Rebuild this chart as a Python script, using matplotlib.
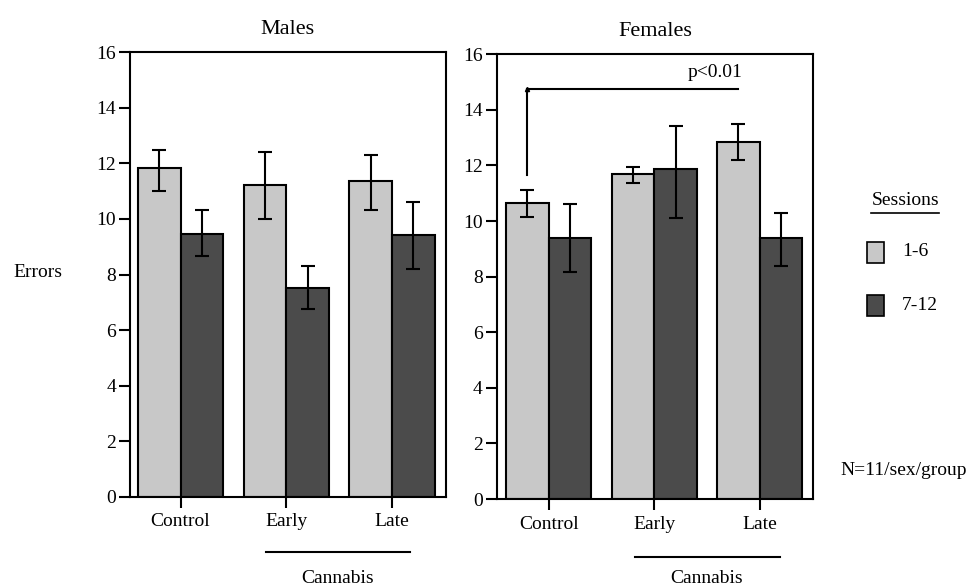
import numpy as np
import matplotlib
matplotlib.use('Agg')
import matplotlib.pyplot as plt

plt.rcParams['font.family'] = ['Liberation Serif', 'DejaVu Serif']

groups = ['Control', 'Early', 'Late']
sessions = ['1-6', '7-12']

# means
males_1_6 = [11.85, 11.24, 11.35]
males_7_12 = [9.46, 7.53, 9.42]
females_1_6 = [10.64, 11.69, 12.85]
females_7_12 = [9.38, 11.87, 9.38]

# error bars (lower, upper)
males_1_6_err = [[0.85, 1.24, 1.01], [0.65, 1.17, 0.96]]
males_7_12_err = [[0.79, 0.78, 1.23], [0.86, 0.76, 1.20]]
females_1_6_err = [[0.51, 0.33, 0.66], [0.47, 0.24, 0.66]]
females_7_12_err = [[1.23, 1.75, 0.99], [1.23, 1.55, 0.92]]

light = '#c8c8c8'
dark = '#4b4b4b'
w = 0.404

fig = plt.figure(figsize=(9.66, 5.87), dpi=100)
ax1 = fig.add_axes([0.1346, 0.1538, 0.3268, 0.7571])
ax2 = fig.add_axes([0.5142, 0.1499, 0.3277, 0.7576])

panels = [
    (ax1, 'Males', males_1_6, males_7_12, males_1_6_err, males_7_12_err, (-0.478, 2.509)),
    (ax2, 'Females', females_1_6, females_7_12, females_1_6_err, females_7_12_err, (-0.493, 2.508)),
]

x = np.arange(len(groups))
for ax, title, a, b, ea, eb, xl in panels:
    ax.bar(x - w/2, a, w, color=light, edgecolor='black', linewidth=1.5,
           yerr=ea, error_kw=dict(ecolor='black', elinewidth=1.5, capsize=5, capthick=1.5))
    ax.bar(x + w/2, b, w, color=dark, edgecolor='black', linewidth=1.5,
           yerr=eb, error_kw=dict(ecolor='black', elinewidth=1.5, capsize=5, capthick=1.5))
    ax.set_ylim(0, 16)
    ax.set_xlim(*xl)
    ax.set_yticks(range(0, 17, 2))
    ax.set_xticks(x)
    ax.set_xticklabels(groups)
    ax.tick_params(axis='both', direction='out', length=8, width=1.5, labelsize=14)
    ax.tick_params(axis='y', pad=2)
    ax.tick_params(axis='x', pad=4)
    for s in ax.spines.values():
        s.set_linewidth(1.5)
    ax.set_title(title, fontsize=16, pad=13)

# Cannabis brackets under Early/Late
ax1.plot([0.81, 2.17], [-2.0, -2.0], color='black', lw=1.5, clip_on=False)
ax1.text(1.49, -2.95, 'Cannabis', ha='center', va='center', fontsize=14)
ax2.plot([0.82, 2.19], [-2.1, -2.1], color='black', lw=1.5, clip_on=False)
ax2.text(1.5, -2.85, 'Cannabis', ha='center', va='center', fontsize=14)

# significance bracket
ax2.plot([-w/2, -w/2], [11.65, 14.74], color='black', lw=1.5)
ax2.plot([-w/2, 2 - w/2], [14.74, 14.74], color='black', lw=1.5)
ax2.plot([-w/2], [14.74], marker='^', color='black', markersize=3)
ax2.text(1.58, 15.35, 'p<0.01', ha='center', va='center', fontsize=14)

fig.text(0.039, 0.535, 'Errors', ha='center', va='center', fontsize=14)

# legend
fig.text(0.937, 0.658, 'Sessions', ha='center', va='center', fontsize=14)
fig.add_artist(plt.Line2D([0.902, 0.972], [0.637, 0.637], color='black', lw=1.2))
fig.patches.append(plt.Rectangle((0.8975, 0.552), 0.0175, 0.036, facecolor=light,
                                 edgecolor='black', lw=1.2, transform=fig.transFigure, figure=fig))
fig.patches.append(plt.Rectangle((0.8975, 0.461), 0.0175, 0.036, facecolor=dark,
                                 edgecolor='black', lw=1.2, transform=fig.transFigure, figure=fig))
fig.text(0.934, 0.571, sessions[0], ha='left', va='center', fontsize=14)
fig.text(0.934, 0.480, sessions[1], ha='left', va='center', fontsize=14)

fig.text(0.935, 0.199, 'N=11/sex/group', ha='center', va='center', fontsize=14)

fig.savefig('out.png', dpi=100)
